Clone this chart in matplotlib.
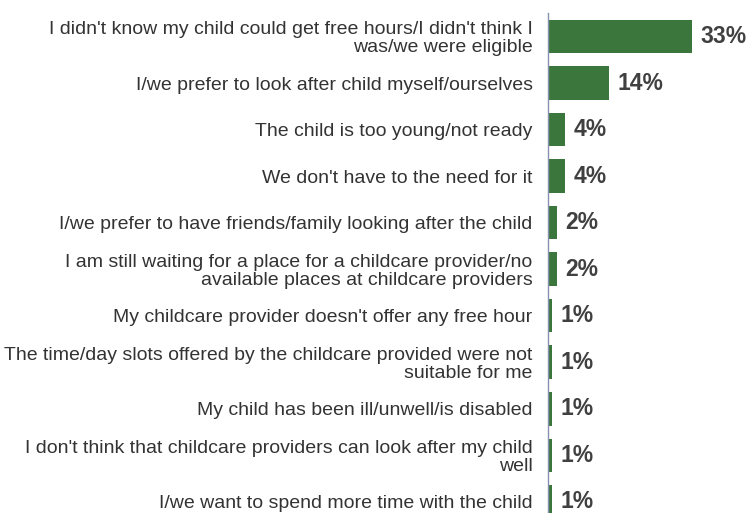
import matplotlib
matplotlib.use("Agg")
import matplotlib.pyplot as plt

plt.rcParams['font.family'] = ['Liberation Sans', 'DejaVu Sans']

# reasons for not using the free hours, top to bottom
reasons = [
    "I didn't know my child could get free hours/I didn't think I\nwas/we were eligible",
    "I/we prefer to look after child myself/ourselves",
    "The child is too young/not ready",
    "We don't have to the need for it",
    "I/we prefer to have friends/family looking after the child",
    "I am still waiting for a place for a childcare provider/no\navailable places at childcare providers",
    "My childcare provider doesn't offer any free hour",
    "The time/day slots offered by the childcare provided were not\nsuitable for me",
    "My child has been ill/unwell/is disabled",
    "I don't think that childcare providers can look after my child\nwell",
    "I/we want to spend more time with the child",
]
shares = [33, 14, 4, 4, 2, 2, 1, 1, 1, 1, 1]

bar_green = '#3b763d'
text_grey = '#404040'

fig = plt.figure(figsize=(7.48, 5.13), dpi=100)
W, H = 748, 513
ax = fig.add_axes([548 / W, 0, 200 / W, (H - 13) / H])

pos = list(range(len(reasons)))
ax.barh(pos, shares, height=0.72, color=bar_green)

ax.set_xlim(0, 45.9)
ax.set_ylim(10.24, -0.505)

ax.set_yticks(pos)
ax.set_yticklabels(reasons, fontsize=14, color='#333333', linespacing=1.05,
                   multialignment='right')
ax.tick_params(axis='y', length=0, pad=11)
ax.set_xticks([])

for s in ['top', 'right', 'bottom']:
    ax.spines[s].set_visible(False)
ax.spines['left'].set_color('#8890b0')
ax.spines['left'].set_linewidth(1.0)

for y, v in zip(pos, shares):
    ax.annotate(f"{v}%", (v, y), xytext=(6, 0), textcoords='offset points',
                va='center', ha='left', fontsize=16.5, fontweight='bold',
                color=text_grey, annotation_clip=False)

fig.savefig('out.png', dpi=100)
